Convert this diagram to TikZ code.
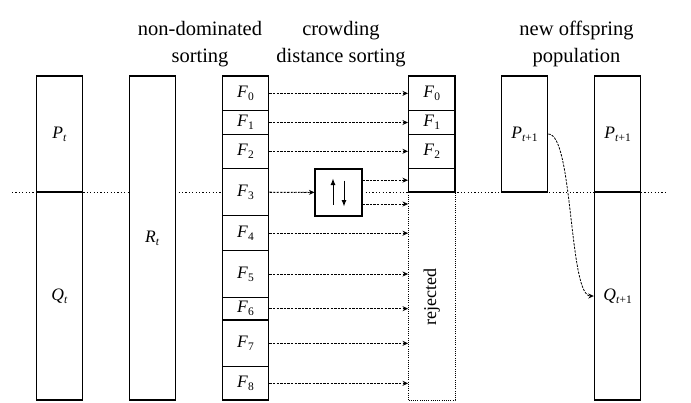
\documentclass[tikz,border=0pt]{standalone}
\usepackage{fontspec}
\setmainfont{Liberation Serif}
\usetikzlibrary{arrows.meta}
\newcommand\lab[2]{\textit{#1}\raisebox{-0.18em}{\fontsize{11.5}{12}\selectfont #2}}
\begin{document}
\begin{tikzpicture}[x=1pt,y=-1pt,
  box/.style={draw,fill=white,line width=1.1pt,inner sep=0pt,minimum width=46.5pt,
    font=\fontsize{17.5}{20}\selectfont},
  head/.style={align=center,inner sep=0pt,font=\fontsize{20.5}{27.5}\selectfont},
  arr/.style={line width=0.8pt,dash pattern=on 2.4pt off 1.2pt,
    -{Stealth[length=5.5pt,width=5pt]}},
  dotline/.style={line width=0.8pt,dash pattern=on 1.2pt off 2.2pt},
  rejbox/.style={draw,fill=white,line width=0.9pt,dash pattern=on 1pt off 1.2pt,
    inner sep=0pt,minimum width=46.5pt,minimum height=208pt}]
\useasboundingbox (0,0) rectangle (691,402);
% headers
\node[head] (h1) at (200,43.9) {non-dominated\\sorting};
\node[head] (h2) at (341,43.9) {crowding\\distance sorting};
\node[head] (h3) at (576.5,43.9) {new offspring\\population};
% global dotted line
\coordinate (dl) at (12,192);
\coordinate (dr) at (665,192);
\draw[dotline] (dl) -- (dr);
% rejected region
\node[rejbox] (rej) at (431.75,296) {};
\node[rotate=90,inner sep=0pt,font=\fontsize{18}{20}\selectfont] (rejt) at (431.75,297) {rejected};
% column 1
\node[box,minimum height=116pt] (Pt) at (59.5,134) {\lab{P}{\textit{t}}};
\node[box,minimum height=208pt] (Qt) at (59.5,296) {\lab{Q}{\textit{t}}};
% column 2
\node[box,minimum height=324pt] (Rt) at (152.3,238) {\lab{R}{\textit{t}}};
% column 3
\node[box,minimum height=34.7pt] (F0) at (245.5,93.35) {\lab{F}{0}};
\node[box,minimum height=23.6pt] (F1) at (245.5,122.5) {\lab{F}{1}};
\node[box,minimum height=34pt] (F2) at (245.5,151.3) {\lab{F}{2}};
\node[box,minimum height=47.4pt] (F3) at (245.5,192) {\lab{F}{3}};
\node[box,minimum height=35pt] (F4) at (245.5,233.2) {\lab{F}{4}};
\node[box,minimum height=46.6pt] (F5) at (245.5,274) {\lab{F}{5}};
\node[box,minimum height=22.7pt] (F6) at (245.5,308.65) {\lab{F}{6}};
\node[box,minimum height=46.7pt] (F7) at (245.5,343.35) {\lab{F}{7}};
\node[box,minimum height=33.3pt] (F8) at (245.5,383.35) {\lab{F}{8}};
% column 4
\node[box,minimum height=34.7pt] (G0) at (431.75,93.35) {\lab{F}{0}};
\node[box,minimum height=23.6pt] (G1) at (431.75,122.5) {\lab{F}{1}};
\node[box,minimum height=34pt] (G2) at (431.75,151.3) {\lab{F}{2}};
\node[box,minimum height=23.7pt] (G3) at (431.75,180.15) {};
% sort box
\node[box,minimum height=47pt,minimum width=47pt] (sort) at (338.5,192.5) {};
\coordinate (su1) at ([xshift=-5.5pt,yshift=-12pt]sort.center);
\coordinate (su2) at ([xshift=-5.5pt,yshift=14pt]sort.center);
\coordinate (sd1) at ([xshift=5.5pt,yshift=12pt]sort.center);
\coordinate (sd2) at ([xshift=5.5pt,yshift=-14pt]sort.center);
\draw[line width=1pt,-{Latex[length=6.5pt,width=5pt]}] (su1) -- (su2);
\draw[line width=1pt,-{Latex[length=6.5pt,width=5pt]}] (sd1) -- (sd2);
% column 5 and 6
\node[box,minimum height=116pt] (P5) at (524.5,134) {\lab{P}{\textit{t}+1}};
\node[box,minimum height=116pt] (P6) at (617.6,134) {\lab{P}{\textit{t}+1}};
\node[box,minimum height=208pt] (Q6) at (617.6,296) {\lab{Q}{\textit{t}+1}};
% arrows
\draw[arr] (F0) -- (G0);
\draw[arr] (F1) -- (G1);
\draw[arr] (F2) -- (G2);
\draw[arr] (F3) -- (sort);
\coordinate (s1) at ([yshift=12.3pt]sort.east);
\coordinate (s2) at ([yshift=-11.5pt]sort.east);
\draw[arr] (s1) -- (s1 -| G3.west);
\draw[arr] (s2) -- (s2 -| rej.west);
\foreach \f in {F4,F5,F6,F7,F8}{
  \draw[arr] (\f.east) -- (\f.east -| rej.west);
}
\draw[arr] (P5.east) .. controls +(25,0) and +(-25,0) .. (Q6.west);
\end{tikzpicture}
\end{document}
